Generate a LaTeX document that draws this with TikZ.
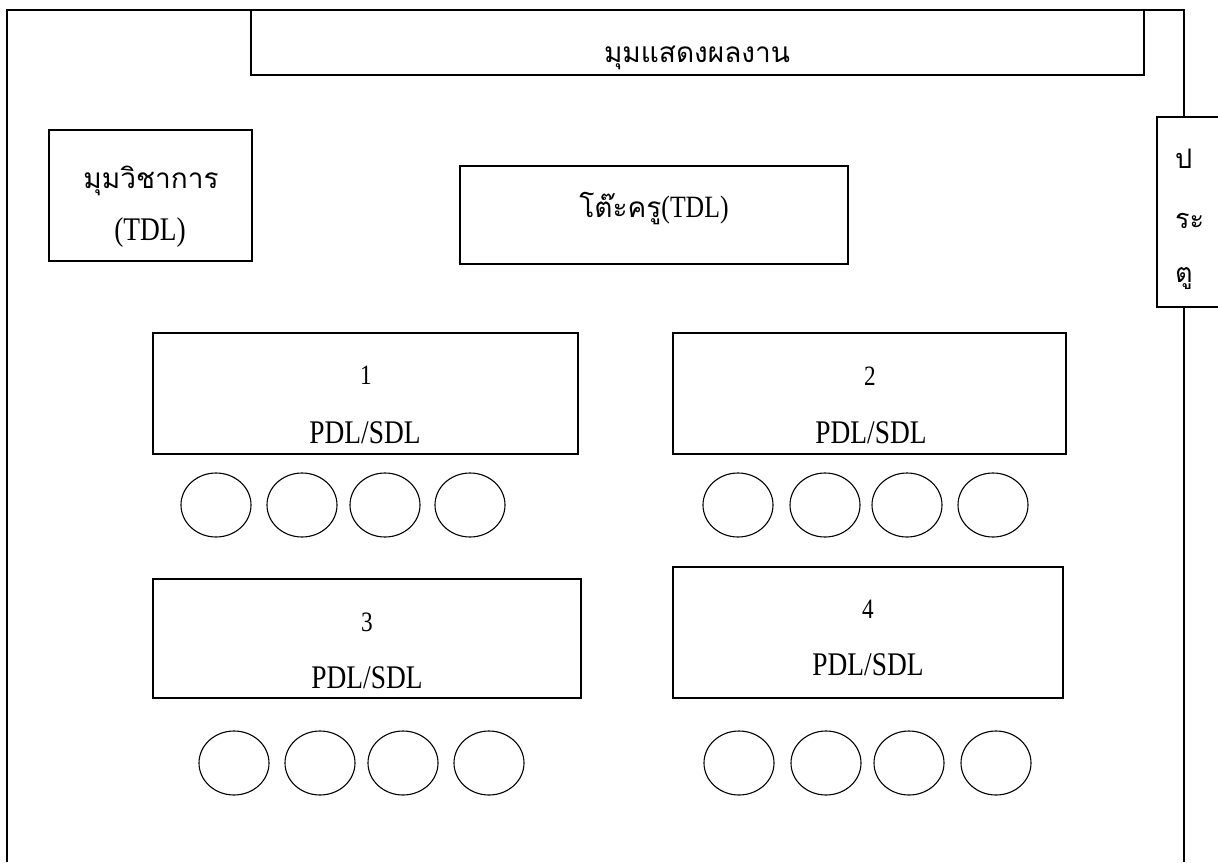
\documentclass[tikz,border=0pt]{standalone}
\usepackage{fontspec}
\usetikzlibrary{shapes.geometric}
\setmainfont[FakeStretch=0.83]{Liberation Serif}
\newfontfamily\thaifont[Script=Thai]{Loma}
\begin{document}
\begin{tikzpicture}[x=1pt,y=-1pt,
  wall/.style={line width=1.8pt},
  box/.style={draw, line width=1.3pt, inner sep=0pt},
  seat/.style={draw, line width=1.1pt, ellipse, minimum width=70pt, minimum height=64pt, inner sep=0pt},
  lat/.style={inner sep=0pt, anchor=base, font=\fontsize{33}{33}\selectfont},
  num/.style={inner sep=0pt, anchor=base, font=\fontsize{28}{28}\selectfont},
  th/.style={inner sep=0pt, anchor=base, font=\thaifont\fontsize{28}{28}\selectfont},
  dr/.style={inner sep=0pt, anchor=base west, font=\thaifont\fontsize{27}{27}\selectfont}]
\useasboundingbox (0,0) rectangle (1218,862);
% walls
\coordinate (wtl) at (7,10);
\coordinate (wbl) at (7,862);
\coordinate (wtr) at (1184,10);
\coordinate (dtop) at (1184,117);
\coordinate (dbot) at (1184,307);
\coordinate (wbr) at (1184,862);
\draw[wall] (wbl) -- (wtl) -- (wtr) -- (dtop);
\draw[wall] (dbot) -- (wbr);
% door
\draw[box] (1218,117) -- (1157,117) -- (1157,307) -- (1218,307);
\node[dr] (d1) at (1175,168) {ป};
\node[dr] (d2) at (1175,228) {ระ};
\node[dr] (d3) at (1175,282) {ตู};
% banner
\draw[box] (251,10) -- (251,75) -- (1144,75) -- (1144,10);
\node[th] (bt) at (697,62) {มุมแสดงผลงาน};
% academic corner
\node[box, minimum width=203pt, minimum height=131pt] (acad) at (150.5,195.5) {};
\node[th] (acadt) at (151,188) {มุมวิชาการ};
\node[lat] (acadl) at (150,240) {(TDL)};
% teacher desk
\node[box, minimum width=388pt, minimum height=98pt] (desk) at (654,215) {};
\node[inner sep=0pt, anchor=base, font=\fontsize{31}{31}\selectfont] (deskt) at (654,217) {{\thaifont\fontsize{28}{28}\selectfont โต๊ะครู}(TDL)};
% group tables
\node[box, minimum width=425pt, minimum height=121pt] (b1) at (365.5,393.5) {};
\node[num] (n1) at (366,384) {1};
\node[lat] (p1) at (365,443) {PDL/SDL};
\node[box, minimum width=393pt, minimum height=121pt] (b2) at (869.5,393.5) {};
\node[num] (n2) at (870,385) {2};
\node[lat] (p2) at (871,443) {PDL/SDL};
\node[box, minimum width=428pt, minimum height=119pt] (b3) at (367,638.5) {};
\node[num] (n3) at (367,631) {3};
\node[lat] (p3) at (367,688) {PDL/SDL};
\node[box, minimum width=390pt, minimum height=131pt] (b4) at (868,632.5) {};
\node[num] (n4) at (868,618) {4};
\node[lat] (p4) at (868,675) {PDL/SDL};
% seats
\foreach \x [count=\i] in {216,302,385,470} \node[seat] (s1\i) at (\x,505) {};
\foreach \x [count=\i] in {738,825,907,993} \node[seat] (s2\i) at (\x,505) {};
\foreach \x [count=\i] in {234,320,403,489} \node[seat] (s3\i) at (\x,763) {};
\foreach \x [count=\i] in {739,826,909,996} \node[seat] (s4\i) at (\x,763) {};
\end{tikzpicture}
\end{document}
